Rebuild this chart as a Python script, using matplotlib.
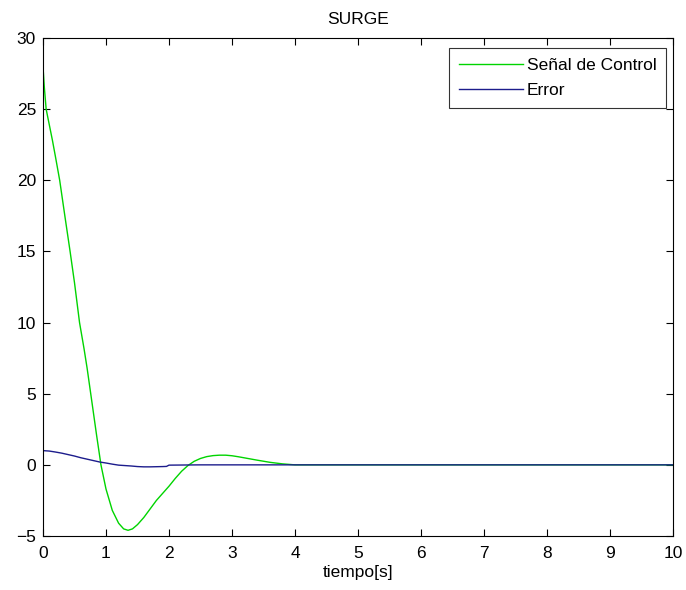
import matplotlib
matplotlib.use("Agg")
import matplotlib.pyplot as plt

# Control signal (Señal de Control)
t_control = [0, 0.02, 0.05, 0.1, 0.15, 0.2, 0.265, 0.35, 0.43, 0.5, 0.58, 0.65, 0.7,
             0.78, 0.85, 0.92, 1.0, 1.1, 1.2, 1.28, 1.35, 1.42, 1.5, 1.6, 1.7, 1.8,
             1.9, 2.0, 2.1, 2.2, 2.3, 2.4, 2.5, 2.6, 2.7, 2.8, 2.9, 3.0, 3.1, 3.2,
             3.4, 3.6, 3.8, 4.0, 10.0]
u_control = [28.0, 26.6, 25.0, 23.9, 22.8, 21.6, 20.0, 17.4, 15.0, 12.8, 10.0, 8.2, 6.8,
             4.3, 2.1, 0.0, -1.7, -3.2, -4.1, -4.5, -4.6, -4.5, -4.2, -3.7, -3.1, -2.5,
             -2.0, -1.5, -0.95, -0.45, -0.05, 0.25, 0.45, 0.58, 0.65, 0.68, 0.68, 0.64, 0.57, 0.49,
             0.33, 0.18, 0.07, 0.0, 0.0]

# Error
t_error = [0, 0.1, 0.2, 0.3, 0.4, 0.5, 0.6, 0.7, 0.8, 0.9, 1.0, 1.1, 1.2, 1.3, 1.4,
           1.5, 1.6, 1.7, 1.8, 1.9, 1.96, 2.0, 2.5, 10.0]
e_error = [1.0, 0.97, 0.9, 0.82, 0.72, 0.62, 0.5, 0.4, 0.3, 0.2, 0.13, 0.05, -0.02, -0.05, -0.08,
           -0.12, -0.14, -0.14, -0.13, -0.12, -0.11, -0.02, 0.0, 0.0]

title = "SURGE"
xlabel = "tiempo[s]"
labels = ["Señal de Control", "Error"]

plt.rcParams['font.family'] = ['Liberation Sans', 'DejaVu Sans']
fig = plt.figure(figsize=(6.86, 5.90), dpi=100)
ax = fig.add_axes([43/686, 54/590, 630/686, 498/590])

ax.plot(t_control, u_control, color='#00d400', lw=1.0, label=labels[0])
ax.plot(t_error, e_error, color='#1c1c8c', lw=1.0, label=labels[1])

ax.set_xlim(0, 10)
ax.set_ylim(-5, 30)
ax.set_xticks(range(0, 11))
ax.set_yticks(range(-5, 31, 5))
ax.tick_params(direction='in', top=True, right=True, length=5, width=0.8,
               labelsize=12.5)
ax.tick_params(axis='x', pad=7)
ax.tick_params(axis='y', pad=5)
for s in ax.spines.values():
    s.set_linewidth(0.8)
ax.set_title(title, fontsize=12.5, pad=10)
ax.set_xlabel(xlabel, fontsize=12.5, labelpad=3)

leg = ax.legend(loc='upper right', bbox_to_anchor=(0.9889, 0.98), borderaxespad=0,
                fontsize=12.5, frameon=True, fancybox=False,
                edgecolor='black', handlelength=3.7, handletextpad=0.2,
                borderpad=0.55, labelspacing=0.6)
leg.get_frame().set_linewidth(0.8)

fig.savefig("out.png", dpi=100)
